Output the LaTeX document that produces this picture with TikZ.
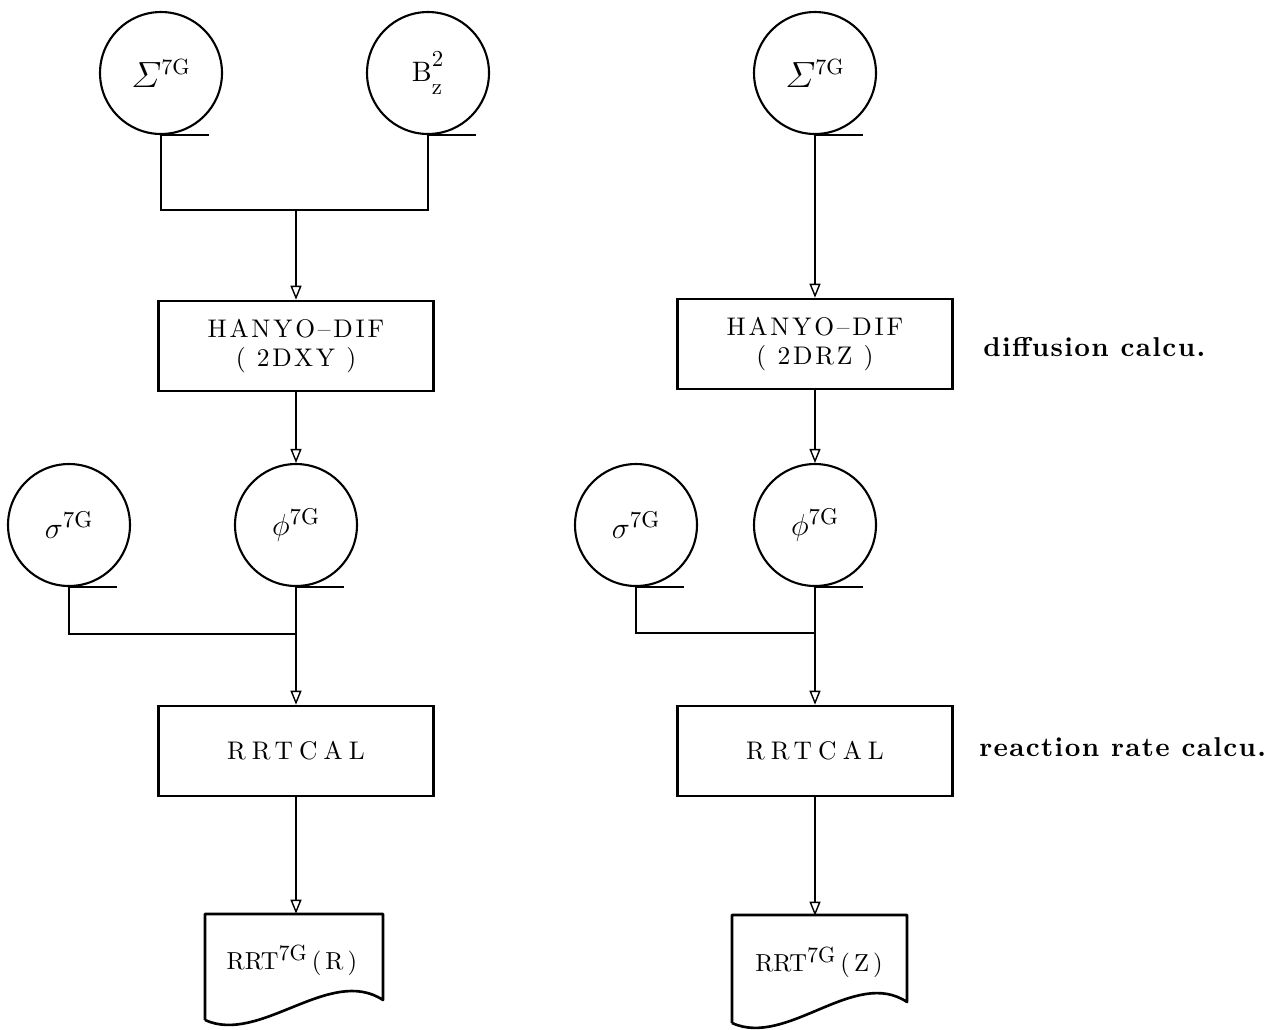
\documentclass[tikz,border=0pt]{standalone}
\usepackage{amsmath}
\usepackage{fontspec}
\setmainfont{lmroman10}[Extension=.otf,UprightFont=*-regular,BoldFont=*-bold,ItalicFont=*-italic,BoldItalicFont=*-bolditalic]
\usetikzlibrary{arrows.meta}

\newcommand{\boxfont}{\fontsize{14.5}{17}\selectfont\addfontfeature{LetterSpace=11}}
\newcommand{\widefont}{\fontsize{14.5}{17}\selectfont\addfontfeature{LetterSpace=24}}
\newcommand{\notefont}{\fontsize{15.5}{16}\selectfont\bfseries\addfontfeature{LetterSpace=5}}
\newcommand{\sevG}{\mbox{\fontsize{12.5}{12}\selectfont 7G}}
\newcommand{\sml}[1]{\mbox{\fontsize{13}{13}\selectfont #1}}

\begin{document}
\begin{tikzpicture}[x=0.02cm,y=-0.02cm,every node/.style={inner sep=0pt},
	disk/.style={draw,circle,minimum size=2.44cm,line width=1.2pt},
	prog/.style={draw,rectangle,minimum width=5.5cm,minimum height=1.8cm,line width=1.5pt,align=center,font=\boxfont},
	flow/.style={line width=0.8pt},
	arr/.style={flow,-{Triangle[open,length=2.8mm,width=2.2mm]}},
	tail/.style={line width=1.4pt}]
	\useasboundingbox (0,0) rectangle (1280,1029);
	% left : 2DXY
	\node[disk] (S1) at (161,73){\fontsize{21}{21}\selectfont$\varSigma^{\sevG}$};
	\node[disk] (B1) at (428,73){\fontsize{16}{16}\selectfont$\mathrm{B}^{\raisebox{2pt}{\sml{2}}}_{\raisebox{-3pt}{\sml{z}}}$};
	\node[prog] (D1) at (296,346){HANYO--DIF\\( 2DXY )};
	\node[disk] (s1) at (69,525){\fontsize{17}{17}\selectfont$\sigma^{\sml{7G}}$};
	\node[disk] (f1) at (296,525){\fontsize{17}{17}\selectfont$\phi^{\sml{7G}}$};
	\node[prog,font=\widefont] (R1) at (296,751){RRTCAL};
	\node[minimum width=3.56cm,minimum height=1.84cm] (T1) at (292,960){\fontsize{14}{14}\selectfont RRT$^{\sevG}$\,(\,R\,)};
	% right : 2DRZ
	\node[disk] (S2) at (815,73){\fontsize{21}{21}\selectfont$\varSigma^{\sevG}$};
	\node[prog] (D2) at (815,344){HANYO--DIF\\( 2DRZ )};
	\node[disk] (s2) at (636,525){\fontsize{17}{17}\selectfont$\sigma^{\sml{7G}}$};
	\node[disk] (f2) at (815,525){\fontsize{17}{17}\selectfont$\phi^{\sml{7G}}$};
	\node[prog,font=\widefont] (R2) at (815,751){RRTCAL};
	\node[minimum width=3.5cm,minimum height=1.84cm] (T2) at (819,962){\fontsize{14}{14}\selectfont RRT$^{\sevG}$\,(\,Z\,)};
	\node[anchor=west] (n1) at (983,347){\notefont diffusion calcu.};
	\node[anchor=west] (n2) at (979,747){\notefont reaction rate calcu.};
	\coordinate (j1) at (296,210);
	\coordinate (j2) at (296,634);
	\coordinate (j3) at (815,633);
	\foreach \n in {S1,B1,s1,f1,S2,s2,f2}{
		\draw[tail] (\n.south)--++(48,0);
		}
	\draw[flow] (S1.south) |- (j1) -| (B1.south);
	\draw[arr] (j1)--(D1);
	\draw[arr] (D1)--(f1);
	\draw[flow] (s1.south) |- (j2);
	\draw[arr] (f1.south)--(R1.north);
	\draw[arr] (R1.south)--(R1.south |- T1.north);
	\draw[arr] (S2.south)--(D2.north);
	\draw[arr] (D2.south)--(f2.north);
	\draw[flow] (s2.south) |- (j3);
	\draw[arr] (f2.south)--(R2.north);
	\draw[arr] (R2.south)--(R2.south |- T2.north);
	% document outlines
	\draw[line width=1.5pt,line join=round] (205,1020)--(205,914)--(383,914)--(383,1000) .. controls (330,965) and (260,1045) .. (205,1020);
	\draw[line width=1.5pt,line join=round] (732,1023)--(732,915)--(907,915)--(907,1002) .. controls (855,967) and (787,1048) .. (732,1023);
	% \draw (T1.north west) rectangle (T1.south east);
\end{tikzpicture}
\end{document}
